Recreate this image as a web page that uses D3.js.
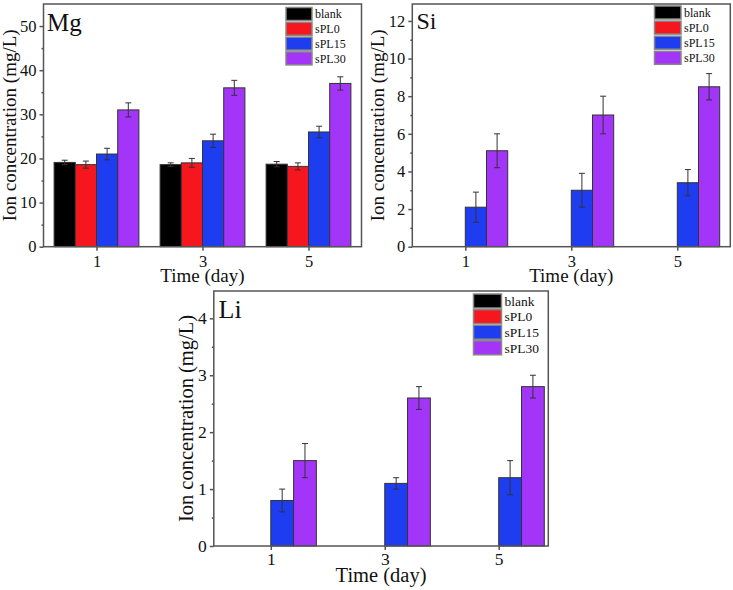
<!DOCTYPE html>
<html><head><meta charset="utf-8">
<script src="https://cdn.jsdelivr.net/npm/d3@7"></script>
<style>body{margin:0;background:#fff}svg{display:block}text{font-family:"Liberation Serif","Times New Roman",serif;fill:#111}</style>
</head><body><svg id="c" width="733" height="590"></svg>
<script>
// ---- data ----
const days = [1, 3, 5];
const seriesNames = ["blank", "sPL0", "sPL15", "sPL30"];
const seriesColors = ["#000000", "#f5161e", "#1e3cf0", "#a235f7"];

const mgBlank = [19.1, 18.6, 18.7], mgBlankErr = [0.5, 0.4, 0.6];
const mgSPL0 = [18.6, 19.0, 18.2], mgSPL0Err = [0.8, 1.0, 0.8];
const mgSPL15 = [21.0, 24.0, 26.0], mgSPL15Err = [1.3, 1.5, 1.3];
const mgSPL30 = [31.0, 36.0, 37.0], mgSPL30Err = [1.6, 1.7, 1.5];

const siBlank = [0, 0, 0], siBlankErr = [0, 0, 0];
const siSPL0 = [0, 0, 0], siSPL0Err = [0, 0, 0];
const siSPL15 = [2.1, 3.0, 3.4], siSPL15Err = [0.8, 0.9, 0.7];
const siSPL30 = [5.1, 7.0, 8.5], siSPL30Err = [0.9, 1.0, 0.7];

const liBlank = [0, 0, 0], liBlankErr = [0, 0, 0];
const liSPL0 = [0, 0, 0], liSPL0Err = [0, 0, 0];
const liSPL15 = [0.8, 1.1, 1.2], liSPL15Err = [0.2, 0.1, 0.3];
const liSPL30 = [1.5, 2.6, 2.8], liSPL30Err = [0.3, 0.2, 0.2];

const mgTicks = [0, 10, 20, 30, 40, 50], mgMinor = [5, 15, 25, 35, 45];
const siTicks = [0, 2, 4, 6, 8, 10, 12], siMinor = [1, 3, 5, 7, 9, 11];
const liTicks = [0, 1, 2, 3, 4], liMinor = [0.5, 1.5, 2.5, 3.5];

const svg = d3.select("#c");

function panel(cfg) {
  const g = svg.append("g");
  const x = d3.scaleLinear().domain([0, cfg.xMax]).range([cfg.left, cfg.right]);
  const y = d3.scaleLinear().domain([0, cfg.yMax]).range([cfg.bottom, cfg.top]);
  const barW = 0.4;
  const offs = [-0.8, -0.4, 0, 0.4];
  // bars
  cfg.values.forEach((vals, si) => {
    vals.forEach((v, i) => {
      if (v <= 0) return;
      const x0 = x(days[i] + offs[si]), x1 = x(days[i] + offs[si] + barW);
      g.append("rect").attr("x", x0).attr("y", y(v)).attr("width", x1 - x0).attr("height", y(0) - y(v))
        .attr("fill", seriesColors[si]).attr("stroke", "#333").attr("stroke-width", 1);
    });
  });
  // error bars
  cfg.values.forEach((vals, si) => {
    vals.forEach((v, i) => {
      const e = cfg.errs[si][i];
      if (v <= 0 || e <= 0) return;
      const cx = x(days[i] + offs[si] + barW / 2);
      const eg = g.append("g").attr("stroke", "#333").attr("stroke-width", 1);
      eg.append("line").attr("x1", cx).attr("x2", cx).attr("y1", y(v + e)).attr("y2", y(v - e));
      eg.append("line").attr("x1", cx - 3).attr("x2", cx + 3).attr("y1", y(v + e)).attr("y2", y(v + e));
      eg.append("line").attr("x1", cx - 3).attr("x2", cx + 3).attr("y1", y(v - e)).attr("y2", y(v - e));
    });
  });
  // frame
  g.append("rect").attr("x", cfg.left).attr("y", cfg.top).attr("width", cfg.right - cfg.left)
    .attr("height", cfg.bottom - cfg.top).attr("fill", "none").attr("stroke", "#555").attr("stroke-width", 1.5);
  // y axis
  const ya = g.append("g").attr("transform", `translate(${cfg.left},0)`)
    .call(d3.axisLeft(y).tickValues(cfg.yTicks).tickSize(4).tickPadding(3).tickFormat(d3.format("d")));
  ya.select(".domain").remove();
  ya.selectAll("line").attr("stroke", "#555").attr("stroke-width", 1.5);
  ya.selectAll("text").style("font-family", "Liberation Serif").style("font-size", cfg.tickFont + "px").attr("fill", "#111");
  const ym = g.append("g").attr("transform", `translate(${cfg.left},0)`)
    .call(d3.axisLeft(y).tickValues(cfg.yMinor).tickSize(2).tickFormat(""));
  ym.select(".domain").remove();
  ym.selectAll("line").attr("stroke", "#555").attr("stroke-width", 1.5);
  // x axis
  const xa = g.append("g").attr("transform", `translate(0,${cfg.bottom})`)
    .call(d3.axisBottom(x).tickValues(days).tickSize(4).tickPadding(cfg.xPad).tickFormat(d3.format("d")));
  xa.select(".domain").remove();
  xa.selectAll("line").attr("stroke", "#555").attr("stroke-width", 1.5);
  xa.selectAll("text").style("font-family", "Liberation Serif").style("font-size", cfg.tickFont + "px").attr("fill", "#111");
  // axis titles
  g.append("text").attr("x", (cfg.left + cfg.right) / 2).attr("y", cfg.xTitleY).attr("text-anchor", "middle")
    .style("font-size", cfg.titleFont + "px").text("Time (day)");
  g.append("text").attr("transform", `translate(${cfg.yTitleX},${(cfg.top + cfg.bottom) / 2}) rotate(-90)`)
    .attr("text-anchor", "middle").style("font-size", cfg.titleFont + "px").text("Ion concentration (mg/L)");
  // panel label
  g.append("text").attr("x", cfg.labelX).attr("y", cfg.labelY).style("font-size", cfg.labelFont + "px").text(cfg.label);
  // legend
  seriesNames.forEach((n, i) => {
    const ly = cfg.legY + i * cfg.legPitch;
    g.append("rect").attr("x", cfg.legX).attr("y", ly).attr("width", cfg.legW).attr("height", cfg.legH)
      .attr("fill", seriesColors[i]).attr("stroke", "#888").attr("stroke-width", 1.5);
    g.append("text").attr("x", cfg.legX + cfg.legW + 3).attr("y", ly + cfg.legH / 2).attr("dy", "0.35em")
      .style("font-size", cfg.legFont + "px").text(n);
  });
}

panel({
  left: 43.5, right: 361.5, top: 4, bottom: 246.7, xMax: 6, yMax: 55,
  yTicks: mgTicks, yMinor: mgMinor,
  values: [mgBlank, mgSPL0, mgSPL15, mgSPL30], errs: [mgBlankErr, mgSPL0Err, mgSPL15Err, mgSPL30Err],
  tickFont: 16.5, titleFont: 19, xPad: 5, xTitleY: 282, yTitleX: 15.5,
  label: "Mg", labelX: 47, labelY: 31, labelFont: 25,
  legX: 286, legY: 7.5, legW: 26, legH: 13, legPitch: 14.8, legFont: 12
});
panel({
  left: 412.3, right: 730.3, top: 4, bottom: 246.7, xMax: 6, yMax: 12.9,
  yTicks: siTicks, yMinor: siMinor,
  values: [siBlank, siSPL0, siSPL15, siSPL30], errs: [siBlankErr, siSPL0Err, siSPL15Err, siSPL30Err],
  tickFont: 16.5, titleFont: 19, xPad: 5, xTitleY: 282, yTitleX: 384,
  label: "Si", labelX: 416.5, labelY: 28.5, labelFont: 24,
  legX: 654.5, legY: 6, legW: 26.5, legH: 13, legPitch: 15.1, legFont: 12
});
panel({
  left: 213.8, right: 548.3, top: 291, bottom: 546, xMax: 5.87, yMax: 4.48,
  yTicks: liTicks, yMinor: liMinor,
  values: [liBlank, liSPL0, liSPL15, liSPL30], errs: [liBlankErr, liSPL0Err, liSPL15Err, liSPL30Err],
  tickFont: 17.5, titleFont: 20.5, xPad: 3, xTitleY: 582, yTitleX: 193,
  label: "Li", labelX: 218.5, labelY: 318, labelFont: 26,
  legX: 473.5, legY: 294, legW: 28, legH: 14, legPitch: 15.6, legFont: 13.5
});
</script></body></html>
